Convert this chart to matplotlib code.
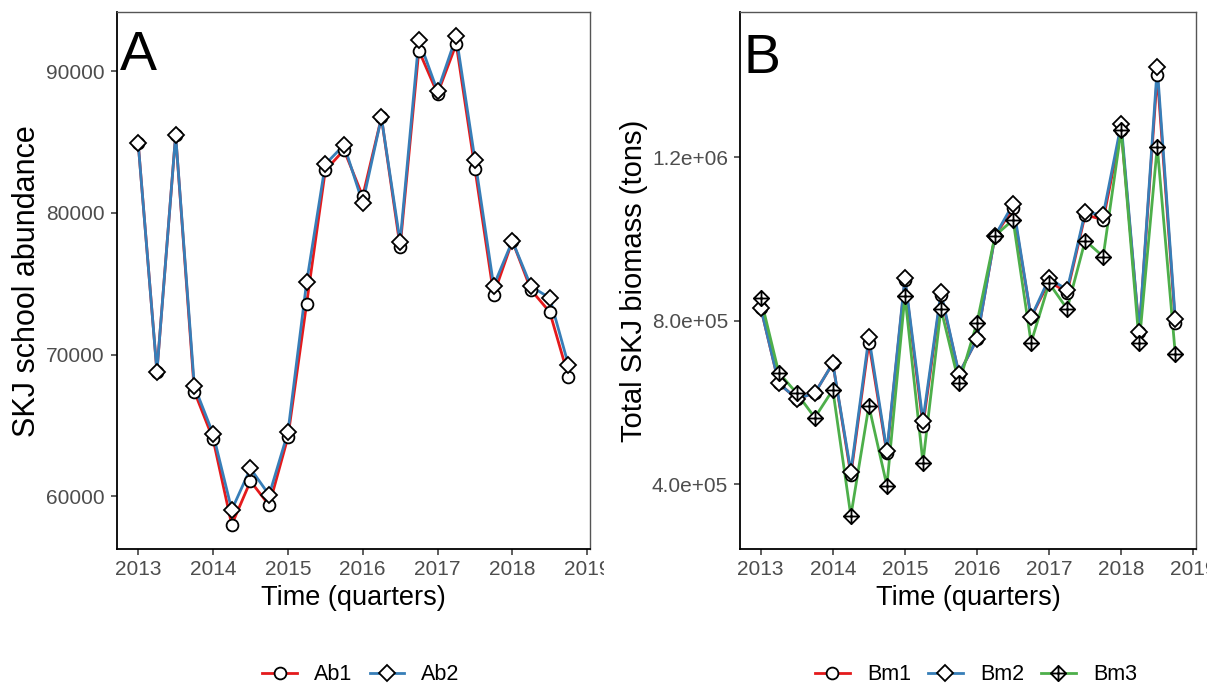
import numpy as np
import matplotlib
matplotlib.use("Agg")
import matplotlib.pyplot as plt
from matplotlib.path import Path
from matplotlib.lines import Line2D
from matplotlib.transforms import Bbox, TransformedBbox

plt.rcParams['font.family'] = ['Liberation Sans', 'DejaVu Sans']

# quarters 2013 Q1 .. 2018 Q4
quarters = [2013.0, 2013.25, 2013.5, 2013.75, 2014.0, 2014.25, 2014.5, 2014.75,
            2015.0, 2015.25, 2015.5, 2015.75, 2016.0, 2016.25, 2016.5, 2016.75,
            2017.0, 2017.25, 2017.5, 2017.75, 2018.0, 2018.25, 2018.5, 2018.75]

ab1 = [84900, 68800, 85500, 67400, 64050, 58000, 61080, 59370,
       64160, 73580, 82990, 84440, 81170, 86730, 77600, 91450,
       88410, 91910, 83110, 74230, 78020, 74560, 73000, 68440]
ab2 = [84900, 68800, 85500, 67780, 64420, 59050, 61970, 60100,
       64510, 75090, 83430, 84790, 80700, 86730, 77950, 92220,
       88580, 92450, 83740, 74860, 78020, 74810, 74000, 69260]

bm1 = [832000, 647000, 609000, 623000, 696000, 423000, 746500, 476000,
       900000, 543500, 863000, 670000, 755000, 1008000, 1075000, 808000,
       896000, 869000, 1059000, 1047000, 1267000, 773000, 1401000, 795000]
bm2 = [832000, 647000, 609000, 623000, 696000, 431000, 759700, 481600,
       905500, 555700, 869800, 670000, 755000, 1008000, 1085000, 808000,
       904000, 875400, 1065500, 1058900, 1281500, 773000, 1420000, 804500]
bm3 = [855000, 673000, 622700, 563000, 631000, 322600, 591700, 396700,
       861500, 453000, 829000, 647000, 795400, 1008000, 1046600, 746500,
       891800, 829000, 996000, 956900, 1267000, 745000, 1226000, 718800]

year_ticks = [2013, 2014, 2015, 2016, 2017, 2018, 2019]
ab_ticks = [60000, 70000, 80000, 90000]
bm_ticks = [4e5, 8e5, 1.2e6]
bm_ticklabels = ['4.0e+05', '8.0e+05', '1.2e+06']

red, blue, green = '#E41A1C', '#377EB8', '#4DAF4A'

# diamond with a plus inside (ggplot shape 9)
diamond_plus = Path(
    [(0, 1), (1, 0), (0, -1), (-1, 0), (0, 1), (0, 1), (0, -1), (-1, 0), (1, 0)],
    [Path.MOVETO, Path.LINETO, Path.LINETO, Path.LINETO, Path.CLOSEPOLY,
     Path.MOVETO, Path.LINETO, Path.MOVETO, Path.LINETO])

styles = {'o': dict(marker='o', ms=8.5),
          'D': dict(marker='D', ms=8),
          'P': dict(marker=diamond_plus, ms=11)}

fig = plt.figure(figsize=(12.21, 6.89), dpi=100)
W, H = 1221, 689
axA = fig.add_axes([116.7 / W, 1 - 549.3 / H, (590 - 116.7) / W, (549.3 - 12) / H])
axB = fig.add_axes([740 / W, 1 - 549.3 / H, (1196 - 740) / W, (549.3 - 12) / H])


def draw(ax, series):
    for y, c, m in series:
        ax.plot(quarters, y, color=c, lw=2.0, zorder=2)
    for y, c, m in series:
        ax.plot(quarters, y, ls='none', mfc='white', mec='black', mew=1.3,
                zorder=3, **styles[m])


def style(ax, clip_right):
    ax.set_xlim(2012.7125, 2019.0375)
    ax.set_xticks(year_ticks)
    for s in ['left', 'bottom']:
        ax.spines[s].set_linewidth(1.3)
        ax.spines[s].set_color('black')
    for s in ['top', 'right']:
        ax.spines[s].set_linewidth(1.0)
        ax.spines[s].set_color('#555555')
    ax.tick_params(axis='both', labelsize=15, labelcolor='#4D4D4D',
                   color='#333333', length=4.5, width=1.1)
    ax.tick_params(axis='x', pad=3)
    ax.tick_params(axis='y', pad=4)
    ax.set_xlabel('Time (quarters)', fontsize=19.5)
    ax.xaxis.set_label_coords(0.5, -0.066)
    clip = TransformedBbox(Bbox([[0, 0], [clip_right / W, 1]]), fig.transFigure)
    for lab in ax.get_xticklabels():
        lab.set_clip_box(clip)
        lab.set_clip_on(True)


draw(axA, [(ab1, red, 'o'), (ab2, blue, 'D')])
style(axA, 604)
axA.set_ylim(56270, 94170)
axA.set_yticks(ab_ticks)
axA.set_yticklabels([str(v) for v in ab_ticks])
axA.set_ylabel('SKJ school abundance', fontsize=22)
axA.yaxis.set_label_coords(-0.158, 0.5)
axA.text(0.007, 0.892, 'A', transform=axA.transAxes, fontsize=40,
         ha='left', va='baseline')

draw(axB, [(bm1, red, 'o'), (bm2, blue, 'D'), (bm3, green, 'P')])
style(axB, 1207)
axB.set_ylim(241000, 1555000)
axB.set_yticks(bm_ticks)
axB.set_yticklabels(bm_ticklabels)
axB.set_ylabel('Total SKJ biomass (tons)', fontsize=21)
axB.yaxis.set_label_coords(-0.202, 0.5)
axB.text(0.007, 0.886, 'B', transform=axB.transAxes, fontsize=40,
         ha='left', va='baseline')


def handles(items):
    return [Line2D([], [], color=c, lw=2.0, mfc='white', mec='black', mew=1.3,
                   label=l, **styles[m]) for l, c, m in items]


legkw = dict(loc='center', frameon=False, fontsize=15.5, handlelength=1.6,
             handletextpad=0.8, columnspacing=0.8, numpoints=1)
fig.legend(handles=handles([('Ab1', red, 'o'), ('Ab2', blue, 'D')]), ncol=2,
           bbox_to_anchor=(361 / W, 1 - 675 / H), **legkw)
fig.legend(handles=handles([('Bm1', red, 'o'), ('Bm2', blue, 'D'), ('Bm3', green, 'P')]),
           ncol=3, bbox_to_anchor=(976 / W, 1 - 675 / H), **legkw)

fig.savefig('out.png', dpi=100, facecolor='white')
